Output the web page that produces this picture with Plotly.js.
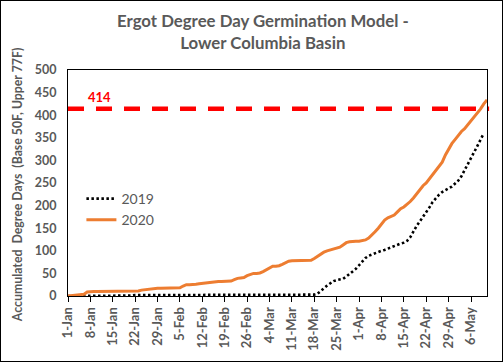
<!DOCTYPE html>
<html>
<head>
<meta charset="utf-8">
<script src="https://cdn.plot.ly/plotly-3.0.1.min.js"></script>
<style>
  html, body { margin: 0; padding: 0; background: #fff; }
  #frame { width: 503px; height: 362px; box-sizing: border-box; border: 1px solid #000; overflow: hidden; }
  #chart { width: 501px; height: 360px; }
</style>
</head>
<body>
<div id="frame"><div id="chart"></div></div>
<script>
// Tick labels (every 7 days starting 1-Jan)
const tickLabels = ["1-Jan","8-Jan","15-Jan","22-Jan","29-Jan","5-Feb","12-Feb","19-Feb","26-Feb",
  "4-Mar","11-Mar","18-Mar","25-Mar","1-Apr","8-Apr","15-Apr","22-Apr","29-Apr","6-May"];
const tickDays = [0,7,14,21,28,35,42,49,56,63,70,77,84,91,98,105,112,119,126];
const yTicks = [0,50,100,150,200,250,300,350,400,450,500];

// Accumulated degree days, one value per day from 1-Jan
const dd2020 = [0,1,1,2,3,4,9,10,10,10,10,10,10,10,10,10,10,10,10,10,10,10,
  11,13,14,15,16,17,17,17,17,17,17,18,18,18,
  22,25,25,25,26,27,28,29,29,30,31,32,32,32,32,33,36,39,40,41,45,48,50,50,51,54,
  58,62,66,66,67,70,74,77,78,78,78,78,78,78,79,83,88,93,97,100,102,103,105,108,
  113,118,120,121,121,121,122,124,128,134,142,150,160,168,173,176,179,186,193,
  197,202,209,217,226,236,244,250,259,269,279,287,296,312,326,337,346,355,364,
  370,379,388,396,404,414,425,434];
const dd2019 = [0,0,0,0,0,0,1,1,1,1,1,1,1,1,1,1,1,1,1,1,1,
  2,2,3,3,3,3,3,3,3,3,3,3,3,3,3,3,3,3,3,3,3,3,3,3,3,3,3,3,3,3,3,3,3,3,3,3,3,
  3,3,3,3,3,3,3,3,3,3,3,3,3,3,3,3,3,3,3,3,
  5,10,17,23,28,33,35,36,38,43,48,54,60,68,76,84,89,92,95,97,100,102,105,108,
  111,114,116,118,122,130,143,155,165,175,184,196,208,217,224,230,235,238,242,
  248,255,265,278,291,303,318,332,346,360];
const threshold = 414;
const thresholdLabel = "414";
const series = [
  {name: "2019", values: dd2019},
  {name: "2020", values: dd2020}
];
const titleText = "Ergot Degree Day Germination Model -<br>Lower Columbia Basin";
const yTitleText = "Accumulated  Degree Days  (Base 50F, Upper 77F)";

const days = n => Array.from({length: n}, (_, i) => i);
const bold = s => "<b>" + s + "</b>";
const grey = "#595959";
const fontFam = "Lato, 'Open Sans', sans-serif";

const traces = [
  {x: days(series[0].values.length), y: series[0].values, name: series[0].name, type: "scatter", mode: "lines",
   line: {color: "#000000", width: 2.6, dash: "2.5px,2.5px"}},
  {x: days(series[1].values.length), y: series[1].values, name: series[1].name, type: "scatter", mode: "lines",
   line: {color: "#ED7D31", width: 3}}
];

const layout = {
  width: 501, height: 360,
  margin: {l: 67, r: 15, t: 69, b: 65},
  paper_bgcolor: "#fff", plot_bgcolor: "#fff",
  showlegend: true,
  xaxis: {range: [0, 131], tickmode: "array", tickvals: tickDays, ticktext: tickLabels.map(bold),
          tickangle: -90, ticks: "outside", ticklen: 5, tickcolor: "#000", tickwidth: 1,
          showgrid: false, zeroline: false, showline: true, linecolor: "#000", linewidth: 1, mirror: true,
          tickfont: {family: fontFam, size: 13, color: grey}, fixedrange: true},
  yaxis: {range: [0, 500], tickmode: "array", tickvals: yTicks, ticktext: yTicks.map(v => bold(String(v))),
          ticks: "", showgrid: false, zeroline: false, ticklabelstandoff: 8,
          showline: true, linecolor: "#000", linewidth: 1, mirror: true,
          tickfont: {family: fontFam, size: 12.5, color: grey}, fixedrange: true},
  legend: {x: 0.032, y: 0.5, xanchor: "left", yanchor: "top", bgcolor: "rgba(0,0,0,0)",
           font: {family: fontFam, size: 14, color: grey}, tracegroupgap: 0},
  shapes: [{type: "line", xref: "paper", yref: "y", x0: 0, x1: 1.005, y0: threshold, y1: threshold,
            line: {color: "#FF0000", width: 4.5, dash: "16px,12px"}}],
  annotations: [
    {x: 5.6, y: threshold, xref: "x", yref: "y", text: bold(thresholdLabel),
     showarrow: false, xanchor: "left", yanchor: "bottom", yshift: 2,
     font: {family: fontFam, size: 13, color: "#FF0000"}},
    {x: 0.466, y: 1.17, xref: "paper", yref: "paper", text: bold(titleText),
     showarrow: false, xanchor: "center", yanchor: "middle",
     font: {family: fontFam, size: 16.8, color: grey}},
    {x: -0.122, y: 0.49, xref: "paper", yref: "paper", text: bold(yTitleText), textangle: -90,
     showarrow: false, xanchor: "center", yanchor: "middle",
     font: {family: fontFam, size: 12.3, color: grey}}
  ]
};

Plotly.newPlot("chart", traces, layout, {displayModeBar: false, staticPlot: true});
</script>
</body>
</html>
